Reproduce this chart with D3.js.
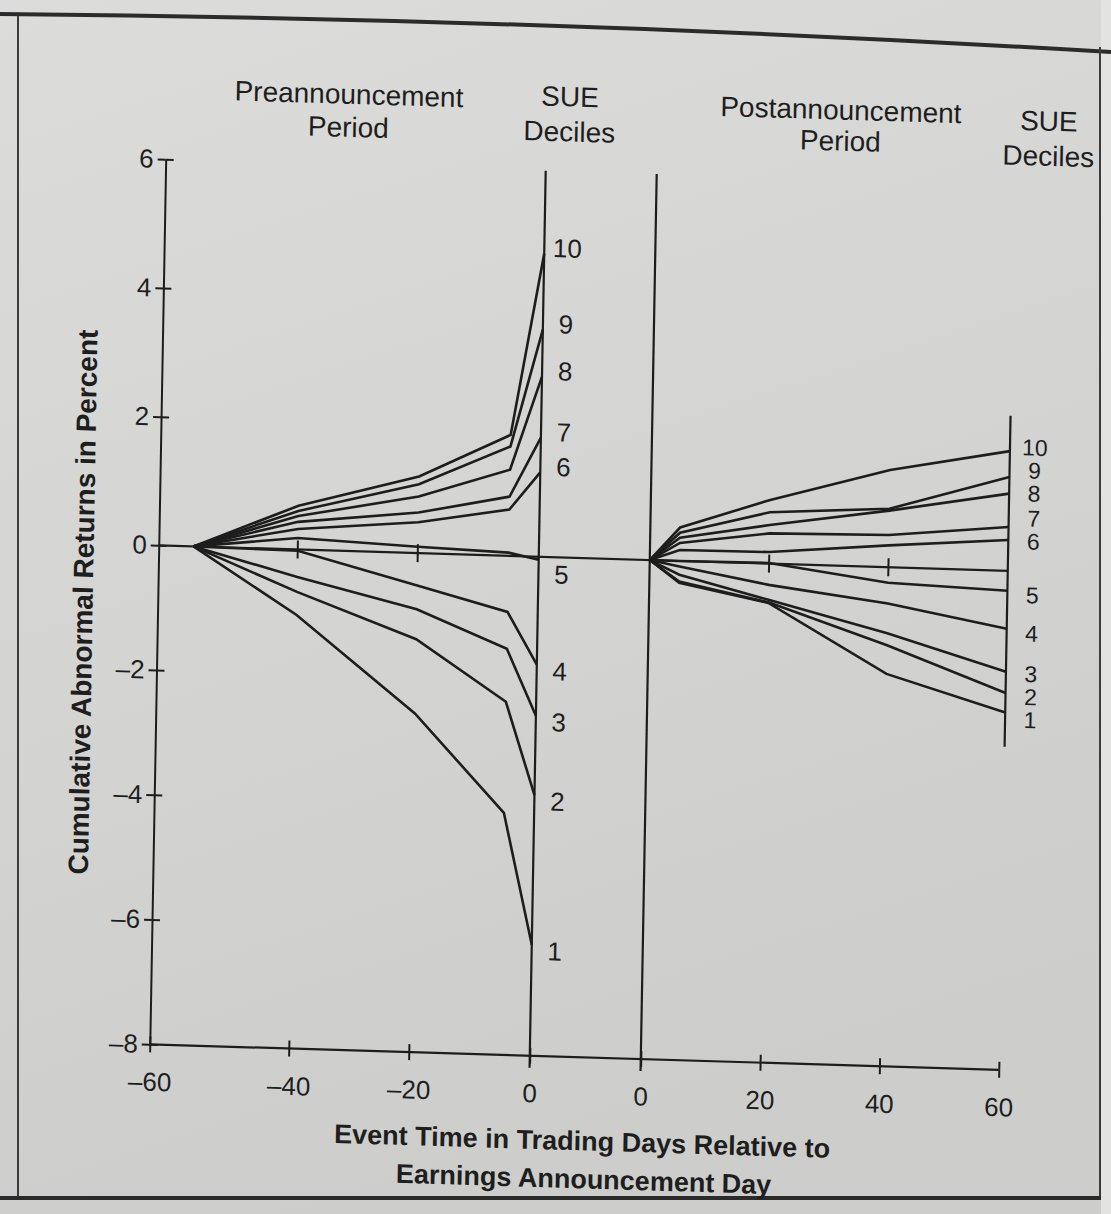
<!DOCTYPE html>
<html>
<head>
<meta charset="utf-8">
<script src="https://cdn.jsdelivr.net/npm/d3@7"></script>
<style>
html, body { margin: 0; padding: 0; background: #d8d8d6; }
svg text { font-family: "Liberation Sans", Arial, Helvetica, sans-serif; fill: #1e1e1e; }
</style>
</head>
<body>
<div id="chart"></div>
<script>
"use strict";

// event days where the plotted segments bend
var preDays  = [-55, -40, -20, -5, 0];
var postDays = [0, 5, 20, 40, 60];

var deciles = [1, 2, 3, 4, 5, 6, 7, 8, 9, 10];

// cumulative abnormal returns (%) by SUE decile, preannouncement period
var pre1  = [0, -1.05, -2.57, -4.12, -6.22];
var pre2  = [0, -0.68, -1.38, -2.34, -3.82];
var pre3  = [0, -0.44, -0.90, -1.49, -2.55];
var pre4  = [0, -0.02, -0.52, -0.90, -1.73];
var pre5  = [0,  0.18,  0.10,  0.05, -0.05];
var pre6  = [0,  0.32,  0.48,  0.72,  1.31];
var pre7  = [0,  0.43,  0.63,  0.92,  1.85];
var pre8  = [0,  0.52,  0.88,  1.34,  2.80];
var pre9  = [0,  0.60,  1.07,  1.70,  3.53];
var pre10 = [0,  0.68,  1.19,  1.88,  4.71];

// postannouncement period
var post1  = [0, -0.35, -0.63, -1.71, -2.27];
var post2  = [0, -0.33, -0.62, -1.25, -1.96];
var post3  = [0, -0.22, -0.58, -1.06, -1.62];
var post4  = [0, -0.09, -0.34, -0.58, -0.93];
var post5  = [0,  0.00,  0.01, -0.25, -0.32];
var post6  = [0,  0.17,  0.18,  0.34,  0.48];
var post7  = [0,  0.28,  0.47,  0.50,  0.68];
var post8  = [0,  0.36,  0.60,  0.88,  1.20];
var post9  = [0,  0.44,  0.80,  0.91,  1.46];
var post10 = [0,  0.52,  0.99,  1.51,  1.86];

var yTicks    = [-8, -6, -4, -2, 0, 2, 4, 6];
var preTicks  = [-60, -40, -20, 0];
var postTicks = [0, 20, 40, 60];
var preZeroTicks  = [-40, -20];
var postZeroTicks = [20, 40];

var preSeries  = [pre1, pre2, pre3, pre4, pre5, pre6, pre7, pre8, pre9, pre10];
var postSeries = [post1, post2, post3, post4, post5, post6, post7, post8, post9, post10];

var width = 1111;
var height = 1214;
var ink = "#1d1d1d";

var svg = d3.select("#chart").append("svg")
	.attr("width", width)
	.attr("height", height);

// paper and page frame
var grad = svg.append("defs").append("linearGradient")
	.attr("id", "paper")
	.attr("x1", 0).attr("y1", 0).attr("x2", 0.3).attr("y2", 1);
grad.append("stop").attr("offset", "0%").attr("stop-color", "#dcdcda");
grad.append("stop").attr("offset", "100%").attr("stop-color", "#cdcecc");

svg.append("rect").attr("width", width).attr("height", height).attr("fill", "url(#paper)");
svg.append("rect").attr("x", 1101).attr("width", 10).attr("height", height).attr("fill", "#e3e3e1");

svg.append("path").attr("d", "M0,14 Q560,19 1111,52")
	.attr("fill", "none").attr("stroke", "#2b2b2b").attr("stroke-width", 4);
svg.append("line").attr("x1", 18).attr("y1", 16).attr("x2", 18).attr("y2", 1198)
	.attr("stroke", "#3c3c3c").attr("stroke-width", 2);
svg.append("line").attr("x1", 1100).attr("y1", 47).attr("x2", 1100).attr("y2", 1198)
	.attr("stroke", "#3c3c3c").attr("stroke-width", 2);
svg.append("line").attr("x1", 0).attr("y1", 1198).attr("x2", 1101).attr("y2", 1198)
	.attr("stroke", "#2b2b2b").attr("stroke-width", 4);

// the page was photographed at a slant: horizontals dip more than verticals lean
var g = svg.append("g").attr("transform", "matrix(1,0.03,-0.018,1,10.8,-17.4)");

var y = d3.scaleLinear().domain([-8, 0, 6]).range([1057, 558, 172]);
var xPre = d3.scaleLinear().domain([-60, -40, -20, 0]).range([158, 297, 417, 538]);
var xPost = d3.scaleLinear().domain([0, 60]).range([649, 1007]);

var dash = function(d) { return d < 0 ? "\u2013" + Math.abs(d) : String(d); };

// baseline and zero line run across both panels
[-8, 0].forEach(function(v) {
	g.append("line")
		.attr("x1", xPre(-60)).attr("x2", xPost(60))
		.attr("y1", y(v)).attr("y2", y(v))
		.attr("stroke", ink).attr("stroke-width", 2.2);
});

// y axis, ticks crossing the line
var yAxisL = g.append("g")
	.attr("transform", "translate(" + xPre(-60) + ",0)")
	.call(d3.axisLeft(y).tickValues(yTicks).tickSize(8).tickSizeOuter(0).tickPadding(4).tickFormat(dash));
g.append("g")
	.attr("transform", "translate(" + xPre(-60) + ",0)")
	.call(d3.axisRight(y).tickValues(yTicks).tickSize(8).tickSizeOuter(0).tickFormat(""))
	.select(".domain").remove();

// x axes
g.append("g")
	.attr("transform", "translate(0," + y(-8) + ")")
	.call(d3.axisBottom(xPre).tickValues(preTicks).tickSize(8).tickPadding(20).tickFormat(dash));
g.append("g")
	.attr("transform", "translate(0," + y(-8) + ")")
	.call(d3.axisBottom(xPost).tickValues(postTicks).tickSize(8).tickPadding(20).tickFormat(dash));
[xPre, xPost].forEach(function(sc, i) {
	g.append("g")
		.attr("transform", "translate(0," + y(-8) + ")")
		.call(d3.axisTop(sc).tickValues(i ? postTicks : preTicks).tickSize(8).tickFormat(""));
});

g.selectAll(".domain").filter(function() { return this.parentNode !== yAxisL.node(); }).remove();
g.selectAll(".tick line, .domain").attr("stroke", ink).attr("stroke-width", 2);
g.selectAll(".tick text")
	.attr("font-size", 26)
	.attr("fill", "#1e1e1e")
	.attr("font-family", "'Liberation Sans', Arial, sans-serif");

// ticks on the zero line
var zeroTicks = preZeroTicks.map(xPre).concat(postZeroTicks.map(xPost));
g.selectAll("line.zt")
	.data(zeroTicks)
	.enter()
	.append("line")
	.attr("class", "zt")
	.attr("x1", function(d) { return d; }).attr("x2", function(d) { return d; })
	.attr("y1", y(0) - 9).attr("y2", y(0) + 9)
	.attr("stroke", ink).attr("stroke-width", 2);

// announcement-day lines and the end-of-window line
g.append("line")
	.attr("x1", xPre(0)).attr("x2", xPre(0))
	.attr("y1", y(-8) + 12).attr("y2", y(6))
	.attr("stroke", ink).attr("stroke-width", 2.2);
g.append("line")
	.attr("x1", xPost(0)).attr("x2", xPost(0))
	.attr("y1", y(-8) + 12).attr("y2", y(6))
	.attr("stroke", ink).attr("stroke-width", 2.2);

var postEnds = postSeries.map(function(s) { return s[s.length - 1]; });
g.append("line")
	.attr("x1", xPost(60)).attr("x2", xPost(60))
	.attr("y1", y(d3.min(postEnds) - 0.55)).attr("y2", y(d3.max(postEnds) + 0.55))
	.attr("stroke", ink).attr("stroke-width", 2.2);

// decile paths
var preLine = d3.line()
	.x(function(d, i) { return xPre(preDays[i]); })
	.y(function(d) { return y(d); });
var postLine = d3.line()
	.x(function(d, i) { return xPost(postDays[i]); })
	.y(function(d) { return y(d); });

g.selectAll("path.pre")
	.data(preSeries)
	.enter()
	.append("path")
	.attr("class", "pre")
	.attr("d", preLine)
	.attr("fill", "none").attr("stroke", ink).attr("stroke-width", 2.6);

g.selectAll("path.post")
	.data(postSeries)
	.enter()
	.append("path")
	.attr("class", "post")
	.attr("d", postLine)
	.attr("fill", "none").attr("stroke", ink).attr("stroke-width", 2.6);

// decile labels at line ends, nudged away from zero and pushed apart when crowded
function spread(items, gap) {
	items.sort(function(a, b) { return a.y - b.y; });
	for (var k = 0; k < 40; k++) {
		for (var i = 1; i < items.length; i++) {
			var d = items[i].y - items[i - 1].y;
			if (d < gap) {
				var m = (gap - d) / 2;
				items[i - 1].y -= m;
				items[i].y += m;
			}
		}
	}
	return items;
}

function labelY(v, push) {
	if (Math.abs(v) < 0.25) return y(v) + 14;
	return y(v) + (v > 0 ? -push : push);
}

var preLabels = spread(deciles.map(function(dec, i) {
	var v = preSeries[i][preSeries[i].length - 1];
	return { text: dec, y: labelY(v, 6) };
}), 26);
var postLabels = spread(deciles.map(function(dec, i) {
	return { text: dec, y: labelY(postEnds[i], 4) };
}), 23);

g.selectAll("text.preLab")
	.data(preLabels)
	.enter()
	.append("text")
	.attr("class", "preLab")
	.attr("x", xPre(0) + 23)
	.attr("y", function(d) { return d.y; })
	.attr("dy", "0.35em")
	.attr("text-anchor", "middle")
	.attr("font-size", 26)
	.text(function(d) { return d.text; });

g.selectAll("text.postLab")
	.data(postLabels)
	.enter()
	.append("text")
	.attr("class", "postLab")
	.attr("x", xPost(60) + 25)
	.attr("y", function(d) { return d.y; })
	.attr("dy", "0.35em")
	.attr("text-anchor", "middle")
	.attr("font-size", 23)
	.text(function(d) { return d.text; });

// headings
function heading(lines, x, y0, lh) {
	var t = g.append("text")
		.attr("text-anchor", "middle")
		.attr("font-size", 28);
	lines.forEach(function(s, i) {
		t.append("tspan").attr("x", x).attr("y", y0 + i * lh).text(s);
	});
}
heading(["Preannouncement", "Period"], 340, 111, 33);
heading(["SUE", "Deciles"], 561, 107, 35);
heading(["Postannouncement", "Period"], 832, 112, 31);
heading(["SUE", "Deciles"], 1040, 117, 35);

// axis titles
g.append("text")
	.attr("transform", "translate(93,617) rotate(-90)")
	.attr("text-anchor", "middle")
	.attr("font-size", 28)
	.attr("font-weight", "bold")
	.text("Cumulative Abnormal Returns in Percent");

var xt = g.append("text")
	.attr("text-anchor", "middle")
	.attr("font-size", 27)
	.attr("font-weight", "bold");
xt.append("tspan").attr("x", 592).attr("y", 1150).text("Event Time in Trading Days Relative to");
xt.append("tspan").attr("x", 594).attr("y", 1188).text("Earnings Announcement Day");
</script>
</body>
</html>
